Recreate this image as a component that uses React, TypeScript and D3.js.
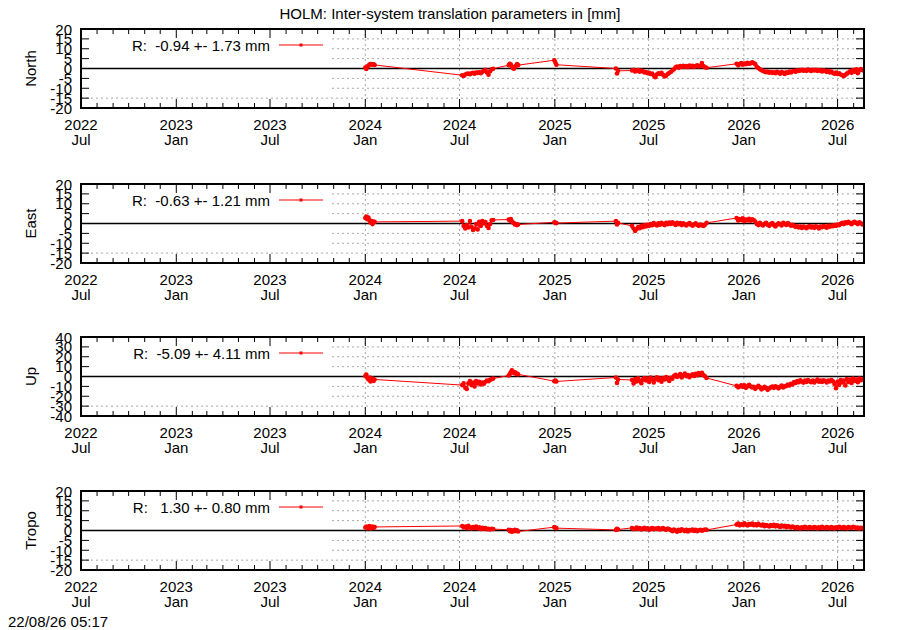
import * as d3 from 'd3';

// data segments: start date and sampling step (days)
const segStarts = ['2024-01-01', '2024-07-06', '2024-10-04', '2024-12-31', '2025-04-29', '2025-05-30', '2025-12-18'];
const segSteps = [2, 3, 2, 2, 2, 3, 3];

const northValues = [
  [0.5, -0.2, 1.0, 1.4, 2.0, 2.3, 2.2, 1.9, 2.1, 1.8],
  [-3.4, -3.8, -3.0, -2.7, -2.5, -2.9, -2.4, -2.2, -2.6, -2.0, -2.2, -1.9, -2.4, -1.7, -1.2, -0.7, -2.0, -3.2, -1.4, -0.4, -0.1],
  [1.7, 2.4, 2.0, 1.0, 0.3, -0.1, 0.7, 1.4, 2.2, 1.7],
  [4.2, 3.0, 1.9],
  [0.0, -2.5, -1.2],
  [-1.0, -0.7, -1.5, -1.2, -0.8, -1.6, -1.0, -1.4, -2.0, -1.8, -2.4, -2.2, -2.8, -2.5, -3.6, -4.4, -3.0, -2.4, -2.8, -2.2,
    -3.2, -4.0, -3.6, -2.8, -2.2, -1.8, -1.0, -0.4, 0.6, 1.0, 0.4, 1.2, 0.8, 1.4, 0.9, 1.3, 0.7, 1.5, 1.0, 1.4,
    0.8, 1.2, 1.6, 1.0, 1.4, 2.8, 1.2, 0.6, 0.4],
  [2.4, 1.6, 2.2, 2.7, 1.9, 2.5, 2.2, 2.9, 2.4, 2.6, 3.1, 2.8, 2.2, 0.8, 0.2, -0.4, -0.9, -1.2, -1.6, -1.9,
    -1.5, -2.1, -1.8, -2.2, -1.9, -2.4, -1.7, -2.0, -2.6, -1.8, -2.2, -2.8, -1.9, -2.3, -1.6, -2.0, -1.4, -1.2, -1.6, -0.9,
    -1.3, -1.0, -0.6, -1.1, -0.8, -1.2, -0.5, -0.9, -1.3, -0.7, -1.0, -0.6, -1.2, -0.8, -1.1, -1.5, -0.9, -1.3, -1.7, -1.2,
    -2.0, -1.6, -2.2, -2.6, -2.0, -2.8, -2.4, -3.0, -3.4, -3.9, -3.2, -2.6, -2.0, -1.4, -2.2, -0.8, -1.6, -0.4, -2.4, -1.0,
    -0.3, -0.9],
];

const eastValues = [
  [2.8, 3.5, 2.2, 3.0, 1.8, 0.5, 1.2, -0.3, 0.8, 0.8],
  [1.2, -1.3, -2.5, -0.8, -2.0, 1.3, -1.7, -3.3, -2.5, -0.3, -3.0, 0.8, -1.3, 1.3, 0.0, 0.7, -1.3, -2.3, -0.3, 1.6, 1.8],
  [2.0, 1.5, 2.2, 1.0, 0.5, 0.2, -0.5, -0.3, -0.8, -0.5],
  [0.6, 0.4, 0.2],
  [1.2, -0.5, 0.3],
  [-1.2, -2.5, -3.8, -2.8, -1.8, -2.4, -1.2, -1.9, -0.8, -1.5, -0.6, -1.2, -0.3, -0.9, 0.2, -0.5, -1.0, 0.1, -0.6, 0.4,
    -0.3, -0.8, 0.3, -0.4, 0.5, -0.2, 0.6, 0.0, -0.7, 0.3, -0.4, 0.2, -0.8, 0.1, -0.5, -1.0, -0.3, 0.2, -0.6, -1.1,
    -0.4, 0.1, -0.7, -1.2, -0.5, -0.9, -1.3, -0.6, 0.3],
  [2.8, 1.5, 2.2, 1.8, 2.6, 1.2, 2.0, 1.6, 2.4, 1.4, 2.1, 1.7, 1.0,
    -0.2, -0.8, 0.3, -0.5, -1.0, -0.2, 0.4, -0.6, -1.2, -0.3, 0.2, -0.8, -1.5, -0.6, 0.1, -0.4, -1.0, 0.3, -0.2, -0.7, 0.2, -0.5, -1.1, -0.6,
    -1.2, -1.8, -1.4, -2.0, -1.6, -2.3, -1.5, -1.9, -2.4, -1.7, -1.3, -2.0, -1.6, -2.2, -1.4, -1.8, -2.5, -1.5, -1.9, -1.3, -1.7, -2.1, -1.2, -1.6, -1.0, -1.4,
    -0.8, -1.2, -0.5, -0.9, -0.2, 0.4, -0.3, 0.6, 0.1, 0.8, 0.2, -0.4, 0.5, 0.9, 0.2, -0.3, 0.6, 0.1, -0.5],
];

const upValues = [
  [0.5, 2.0, -1.5, -3.0, -1.0, -5.0, -3.5, -2.0, -4.5, -3.0],
  [-8.7, -7.0, -11.3, -12.7, -7.0, -4.7, -8.7, -6.0, -10.0, -4.7, -7.0, -5.3, -8.0, -6.0, -7.3, -5.3, -4.0, -4.7, -3.3, -2.7, -2.0],
  [1.0, 2.5, 4.0, 6.3, 5.0, 3.5, 4.2, 2.8, 3.0, 2.2],
  [-4.7, -4.2, -5.0],
  [-1.0, -6.5, -3.0],
  [-3.5, -7.0, -2.5, -5.0, -1.8, -4.5, -6.8, -3.2,
    -1.5, -4.0, -2.2, -5.5, -1.0, -3.2, -6.0, -2.5, -0.8, -3.8, -2.0, -5.2, -1.5, -3.0, -0.5, -2.8, -4.5, -1.2, -2.2, 0.5,
    1.8, -0.5, 0.8, 2.5, -1.0, 1.2, 3.0, 0.2, 1.5, -0.8, 1.0, 2.2, 0.5, 2.8, 1.2, 3.5, 2.0, 3.8, 1.5, 0.2, -1.5],
  [-9.5, -11.0, -10.2, -8.8, -10.5, -9.0, -11.5, -10.0, -8.5, -9.8, -11.2, -10.4, -12.5, -11.0, -9.5, -10.8, -13.0, -12.0, -10.5, -11.8,
    -13.5, -12.2, -11.0, -10.2, -11.5, -9.8, -10.8, -12.0, -10.5, -9.2, -11.2, -10.0, -9.5, -8.2, -9.0, -7.5, -8.0,
    -5.5, -6.5, -4.5, -5.8, -3.8, -5.0, -6.2, -4.2, -5.5, -3.5, -4.8, -5.8, -4.0, -6.0, -4.5, -3.2, -5.2, -4.0, -5.6, -3.8, -4.6, -6.0, -4.2, -5.0, -3.6, -4.8,
    -7.5, -11.8, -5.0, -8.5, -3.5, -6.0, -4.2, -9.0, -2.5, -5.5, -3.0, -6.5, -2.0, -4.5, -3.2, -5.8, -2.2, -3.8, -2.8],
];

const tropoValues = [
  [1.5, 2.0, 1.2, 1.8, 2.2, 1.0, 1.6, 2.0, 1.3, 1.8],
  [2.3, 1.5, 2.0, 1.2, 2.4, 1.6, 1.0, 1.8, 1.3, 2.0, 1.1, 1.6, 0.8, 1.4, 0.9, 1.2, 0.6, 0.8, 0.5, 0.9, 0.7],
  [0.4, -0.3, 0.2, -0.6, 0.0, -0.4, 0.3, -0.2, 0.1, -0.5],
  [1.7, 1.4, 1.2],
  [0.3, 0.8, 0.5],
  [1.3, 0.6, 1.0, 1.5, 0.8, 1.2, 0.5, 1.0, 1.4, 0.7, 1.1, 0.4, 0.9, 1.3, 0.6, 1.0, 0.8, 1.2, 0.5, 0.9, 1.3, 0.7, 0.4, 1.0, 0.6,
    0.2, -0.4, 0.5, 0.0, -0.6, 0.3, -0.2, 0.6, 0.1, -0.3, 0.4, -0.5, 0.2, 0.0, 0.5, -0.2, 0.3, -0.4, 0.1, 0.4, -0.1, 0.2, 0.5, 0.3],
  [3.0, 3.5, 2.6, 3.2, 2.8, 3.6, 3.0, 2.5, 3.3, 2.9, 3.5, 2.7, 3.1, 2.6, 3.4, 2.8,
    2.5, 3.0, 2.2, 2.8, 2.4, 2.0, 2.7, 2.3, 2.9, 2.1, 2.6, 2.2, 1.8, 2.5, 2.0, 2.4, 1.7, 2.2, 1.9, 1.5, 2.0,
    1.6, 1.2, 1.8, 1.4, 1.0, 1.6, 1.3, 1.9, 1.5, 1.1, 1.7, 1.4, 1.2, 1.8, 1.5, 1.0, 1.6, 1.3, 1.9, 1.4, 1.2, 1.7, 1.5, 1.1,
    1.8, 1.4, 1.0, 1.6, 1.3, 1.9, 1.5, 1.2, 1.7, 1.4, 1.1, 1.8, 1.5, 1.3, 1.9, 1.6, 1.2, 1.5, 1.0, 1.4, 1.2],
];

const panelNames = ['North', 'East', 'Up', 'Tropo'];
const panelLimits = [20, 20, 40, 20];
const panelStats = ['-0.94 +- 1.73', '-0.63 +- 1.21', '-5.09 +- 4.11', ' 1.30 +- 0.80'];
const panelSeries = [northValues, eastValues, upValues, tropoValues];
const panelTops = [29, 184, 337, 491];

const title = 'HOLM: Inter-system translation parameters in [mm]';
const timestamp = '22/08/26 05:17';
const xStart = '2022-07-01';
const xEnd = '2026-08-21';

const parse = d3.utcParse('%Y-%m-%d');
const FONT = '"Liberation Sans", Arial, Helvetica, sans-serif';
const FS = 15;
const LEFT = 81;
const RIGHT = 864;
const KEY_RIGHT = 332;
const PH = 79;
const GRID = '#a8a8a8';

type Pt = { date: Date; value: number };

function buildSeries(values: number[][]): Pt[] {
  const out: Pt[] = [];
  values.forEach((seg, s) => {
    const t0 = parse(segStarts[s]) as Date;
    seg.forEach((v, i) => out.push({ date: d3.utcDay.offset(t0, i * segSteps[s]), value: v }));
  });
  return out;
}

const x = d3.scaleUtc().domain([parse(xStart) as Date, parse(xEnd) as Date]).range([LEFT, RIGHT]);
const majorTicks = x.ticks(d3.utcMonth.every(6)!);
const minorTicks = x.ticks(d3.utcMonth.every(1)!);
const fmtYear = d3.utcFormat('%Y');
const fmtMonth = d3.utcFormat('%b');

function Panel({ idx }: { idx: number }) {
  const top = panelTops[idx];
  const lim = panelLimits[idx];
  const y = d3.scaleLinear().domain([-lim, lim]).range([top + PH, top]);
  const step = lim / 4;
  const yTicks = d3.range(-lim, lim + 0.001, step);
  const data = buildSeries(panelSeries[idx]);
  const line = d3.line<Pt>().x((d) => x(d.date)).y((d) => y(d.value));
  const bottom = top + PH;
  const midY = top + PH / 2;
  const keyY = top + 16;

  return (
    <g>
      {/* grid (the key box hides the left part, except the lowest line) */}
      {yTicks.filter((t) => t !== 0 && Math.abs(t) !== lim).map((t) => (
        <line key={'gy' + t} x1={t === -lim + step ? LEFT : KEY_RIGHT} x2={RIGHT} y1={y(t)} y2={y(t)}
          stroke={GRID} strokeWidth={1} strokeDasharray="2,3" />
      ))}
      {majorTicks.filter((t) => x(t) > KEY_RIGHT).map((t) => (
        <line key={'gx' + t.getTime()} x1={x(t)} x2={x(t)} y1={top} y2={bottom} stroke={GRID} strokeWidth={1} strokeDasharray="2,3" />
      ))}
      {/* zero axis */}
      <line x1={LEFT} x2={RIGHT} y1={y(0)} y2={y(0)} stroke="#000" strokeWidth={1.5} />
      {/* ticks */}
      {minorTicks.map((t) => {
        const major = t.getUTCMonth() % 6 === 0;
        const len = major ? 9 : 5;
        return (
          <g key={'t' + t.getTime()}>
            <line x1={x(t)} x2={x(t)} y1={bottom} y2={bottom - len} stroke="#000" />
            <line x1={x(t)} x2={x(t)} y1={top} y2={top + len} stroke="#000" />
          </g>
        );
      })}
      {yTicks.map((t) => (
        <g key={'yt' + t}>
          <line x1={LEFT} x2={LEFT + 8} y1={y(t)} y2={y(t)} stroke="#000" />
          <line x1={RIGHT} x2={RIGHT - 8} y1={y(t)} y2={y(t)} stroke="#000" />
          <text x={72} y={y(t)} textAnchor="end" dominantBaseline="central" fontSize={FS}>{t}</text>
        </g>
      ))}
      {majorTicks.map((t) => (
        <g key={'xl' + t.getTime()}>
          <text x={x(t)} y={bottom + 22} textAnchor="middle" fontSize={FS}>{fmtYear(t)}</text>
          <text x={x(t)} y={bottom + 37} textAnchor="middle" fontSize={FS}>{fmtMonth(t)}</text>
        </g>
      ))}
      {/* data */}
      <path d={line(data) || ''} fill="none" stroke="#ff0000" strokeWidth={1} />
      {data.map((d, i) => (
        <circle key={i} cx={x(d.date)} cy={y(d.value)} r={2.3} fill="#ff0000" />
      ))}
      {/* key */}
      <text x={270} y={keyY} textAnchor="end" dominantBaseline="central" fontSize={FS} style={{ whiteSpace: 'pre' }}>
        {'R:  ' + panelStats[idx] + ' mm'}
      </text>
      <line x1={279} x2={323} y1={keyY} y2={keyY} stroke="#ff0000" strokeWidth={1} />
      <rect x={299.5} y={keyY - 1.5} width={3} height={3} fill="#ff0000" />
      {/* border */}
      <rect x={LEFT} y={top} width={RIGHT - LEFT} height={PH} fill="none" stroke="#000" strokeWidth={2} />
      <text transform={`translate(30,${midY}) rotate(-90)`} textAnchor="middle" dominantBaseline="central" fontSize={FS}>
        {panelNames[idx]}
      </text>
    </g>
  );
}

export default function App() {
  return (
    <svg width={900} height={630} style={{ position: 'absolute', left: 0, top: 0, background: '#fff' }} fontFamily={FONT}>
      <rect width={900} height={630} fill="#fff" />
      <text x={450} y={19} textAnchor="middle" fontSize={FS}>{title}</text>
      {panelNames.map((_, i) => (
        <Panel key={i} idx={i} />
      ))}
      <text x={8} y={627} fontSize={FS}>{timestamp}</text>
    </svg>
  );
}
